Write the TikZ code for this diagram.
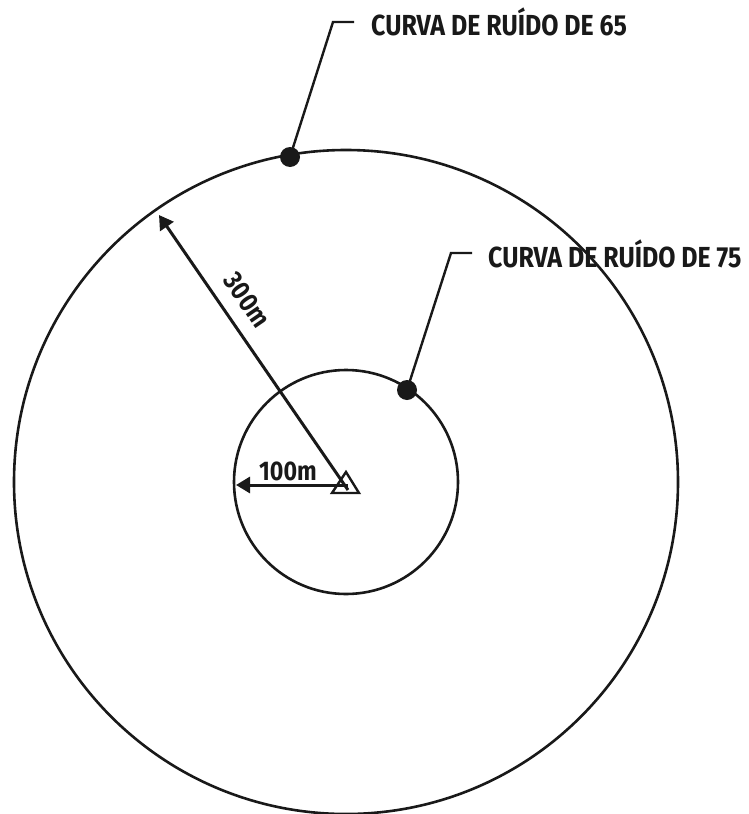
\documentclass[tikz,border=0pt]{standalone}
\usepackage{fontspec}
\setmainfont{Fira Sans}
\newfontfamily\narrowfont[FakeStretch=0.86]{Fira Sans}
\usetikzlibrary{arrows.meta}

\begin{document}
\begin{tikzpicture}[x=1pt,y=-1pt]
		\tikzstyle{every node}+=[inner sep=0pt]
		\tikzstyle{ring}=[draw=black!90, line width=2.6pt]
		\tikzstyle{lead}=[draw=black!90, line width=2.4pt]
		\tikzstyle{dim}=[draw=black!90, line width=3pt, -{Triangle[length=14pt,width=16pt]}]
		\tikzstyle{dot}=[circle, fill=black!90, minimum size=20pt]
		\tikzstyle{curve label}=[anchor=base west, font=\narrowfont\fontsize{29}{33}\selectfont\bfseries, text=black!90]
		\tikzstyle{dim label}=[font=\narrowfont\fontsize{27}{31}\selectfont\bfseries, text=black!90]
		\useasboundingbox (0,0) rectangle (748,814);
		\coordinate (src) at (346,482);
		\draw [ring] (src) circle (332);
		\draw [ring] (src) circle (112);
		\draw [lead] (346,472) -- (359,493) -- (332,493) -- cycle;
		\coordinate (r100) at (236,485);
		\coordinate (r300) at (159,215);
		\draw [dim] (348,485) -- (r100);
		\draw [dim] (348,490) -- (r300);
		\node [dim label] (l100) at (288,471) {100m};
		\node [dim label, rotate=-55.5] (l300) at (247,300) {300m};
		\node [dot] (d65) at (290,157) {};
		\coordinate (k65) at (333,22);
		\coordinate (e65) at (354,22);
		\draw [lead] (d65.center) -- (k65) -- (e65);
		\node [curve label] (t65) at (371,35) {CURVA DE RUÍDO DE 65};
		\node [dot] (d75) at (407,390) {};
		\coordinate (k75) at (451,253);
		\coordinate (e75) at (472,253);
		\draw [lead] (d75.center) -- (k75) -- (e75);
		\node [curve label] (t75) at (488,267) {CURVA DE RUÍDO DE 75};
	\end{tikzpicture}
\end{document}
